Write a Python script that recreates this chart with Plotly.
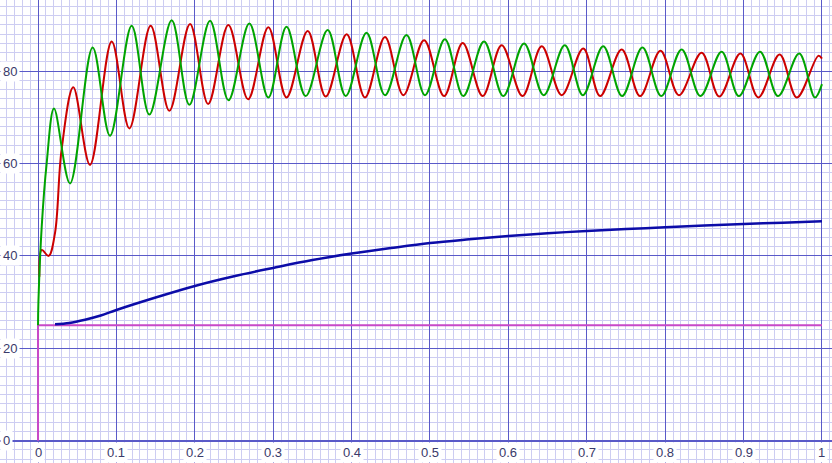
import plotly.graph_objects as go

# ---- data ----
green_t = [0.0, 0.0005, 0.0047, 0.011, 0.0204, 0.0408, 0.0697, 0.0918, 0.1195, 0.142, 0.1705,
           0.193, 0.2194, 0.243, 0.2696, 0.2938, 0.317, 0.3414, 0.3695, 0.3925, 0.419, 0.4426,
           0.470, 0.4936, 0.519, 0.5425, 0.5689, 0.5935, 0.620, 0.645, 0.672, 0.695, 0.721,
           0.745, 0.771, 0.795, 0.821, 0.845, 0.872, 0.894, 0.921, 0.944, 0.971, 0.991, 1.0]
green_v = [25.0, 30.0, 46.3, 60.0, 71.9, 55.7, 85.1, 66.0, 89.8, 70.6, 91.0,
           72.7, 90.9, 73.7, 90.3, 74.3, 89.6, 74.6, 88.9, 74.6, 88.3, 74.8,
           87.8, 74.8, 86.9, 74.6, 86.4, 74.6, 86.0, 74.8, 85.6, 74.8, 85.4,
           74.6, 85.1, 74.6, 84.7, 74.6, 84.2, 74.6, 84.2, 74.6, 83.8, 74.3, 77.2]

red_t = [0.0017, 0.0047, 0.0135, 0.0217, 0.030, 0.045, 0.0663, 0.094, 0.1165, 0.1437, 0.1675,
         0.1939, 0.217, 0.2428, 0.268, 0.2938, 0.317, 0.344, 0.367, 0.3937, 0.417, 0.4426,
         0.466, 0.4925, 0.5179, 0.5417, 0.5672, 0.5914, 0.618, 0.6425, 0.668, 0.6955, 0.717,
         0.7445, 0.768, 0.794, 0.8176, 0.8465, 0.869, 0.896, 0.9188, 0.946, 0.968, 0.9953, 1.0]
red_v = [35.5, 41.3, 40.0, 45.0, 62.9, 76.5, 59.7, 86.4, 67.6, 89.8, 71.4,
         90.2, 72.9, 90.0, 73.9, 89.5, 74.3, 88.7, 74.5, 88.0, 74.3, 87.4,
         74.8, 86.7, 74.6, 86.1, 74.6, 85.6, 74.6, 85.4, 74.8, 84.9, 74.6,
         84.7, 74.6, 84.4, 74.8, 84.0, 74.5, 83.8, 74.3, 83.6, 74.3, 83.3, 82.7]

blue_t = [0.0217, 0.04, 0.06, 0.08, 0.1, 0.15, 0.2, 0.25, 0.3, 0.35, 0.4, 0.45, 0.5,
          0.55, 0.6, 0.65, 0.7, 0.75, 0.8, 0.85, 0.9, 0.95, 1.0]
blue_v = [25.2, 25.5, 26.2, 27.1, 28.3, 31.0, 33.5, 35.6, 37.4, 39.1, 40.5, 41.7, 42.8,
          43.6, 44.3, 44.9, 45.4, 45.8, 46.2, 46.6, 46.9, 47.2, 47.5]

magenta_t = [0.0, 0.0, 1.0]
magenta_v = [0.0, 25.0, 25.0]

x_ticks = [0, 0.1, 0.2, 0.3, 0.4, 0.5, 0.6, 0.7, 0.8, 0.9, 1.0]
x_labels = ["0", "0.1", "0.2", "0.3", "0.4", "0.5", "0.6", "0.7", "0.8", "0.9", "1"]
y_ticks = [0, 20, 40, 60, 80]
y_labels = ["0", "20", "40", "60", "80"]

# ---- figure ----
fig = go.Figure()
fig.add_trace(go.Scatter(x=magenta_t, y=magenta_v, mode="lines",
                         line=dict(color="#c848c8", width=2)))
fig.add_trace(go.Scatter(x=blue_t, y=blue_v, mode="lines",
                         line=dict(color="#0c0ca8", width=2.5, shape="spline")))
fig.add_trace(go.Scatter(x=red_t, y=red_v, mode="lines",
                         line=dict(color="#cc0000", width=2, shape="spline")))
fig.add_trace(go.Scatter(x=green_t, y=green_v, mode="lines",
                         line=dict(color="#00a400", width=2, shape="spline")))

label_font = dict(family="Liberation Sans", size=13, color="#3a3a6a")
for v, s in zip(y_ticks, y_labels):
    fig.add_annotation(x=0, xref="paper", y=v, yref="y", text=s, showarrow=False,
                       xanchor="left", yanchor="middle", bgcolor="white",
                       borderpad=2, font=label_font)
for v, s in zip(x_ticks, x_labels):
    fig.add_annotation(x=v, xref="x", y=-2.45, yref="y", text=s, showarrow=False,
                       xanchor="center", yanchor="middle", bgcolor="white",
                       borderpad=2, font=label_font)

major = "#5a5ac8"
minor = "#cdcdf2"
fig.update_layout(
    width=832, height=463,
    margin=dict(l=0, r=0, t=0, b=0),
    paper_bgcolor="white", plot_bgcolor="white",
    showlegend=False,
    xaxis=dict(range=[-0.0485, 1.0128], tick0=0, dtick=0.1, showticklabels=False,
               showgrid=True, gridcolor=major, gridwidth=1,
               zeroline=True, zerolinecolor=major, zerolinewidth=1,
               minor=dict(tick0=0, dtick=0.01, showgrid=True, gridcolor=minor, gridwidth=1),
               showline=False, fixedrange=True),
    yaxis=dict(range=[-4.83, 95.4], tick0=0, dtick=20, showticklabels=False,
               showgrid=True, gridcolor=major, gridwidth=1,
               zeroline=True, zerolinecolor=major, zerolinewidth=1.5,
               minor=dict(tick0=0, dtick=2, showgrid=True, gridcolor=minor, gridwidth=1),
               showline=False, fixedrange=True),
)

fig.write_html("out.html",
               config={"displayModeBar": False},
               post_script="document.body.style.margin='0';document.body.style.overflow='hidden';")
